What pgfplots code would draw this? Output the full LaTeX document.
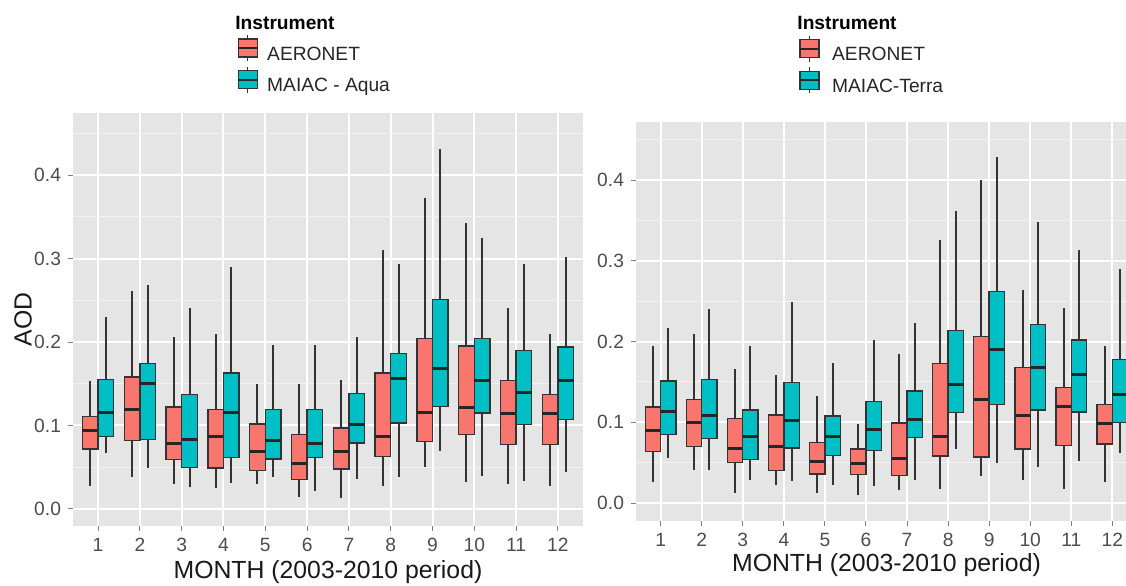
\documentclass[border=0pt]{standalone}
\usepackage{fontspec}
\setmainfont{Liberation Sans}
\usepackage{pgfplots}
\pgfplotsset{compat=1.18}
\usepgfplotslibrary{statistics}

\definecolor{cR}{HTML}{F8766D}
\definecolor{cT}{HTML}{00BFC4}
\definecolor{panelbg}{HTML}{E5E5E5}
\definecolor{gridminor}{HTML}{F2F2F2}
\definecolor{tickgray}{HTML}{7F7F7F}
\definecolor{labgray}{HTML}{4D4D4D}
\definecolor{outline}{HTML}{333333}

% \bx{draw position}{lower whisker}{lower quartile}{median}{upper quartile}{upper whisker}{colour}
\newcommand{\bx}[7]{%
  \addplot[forget plot, fill=#7, draw=outline, line width=0.7pt,
    boxplot prepared={draw position=#1, lower whisker=#2,
      lower quartile=#3, median=#4, upper quartile=#5,
      upper whisker=#6}] coordinates {};%
}

\pgfplotsset{
  ggbase/.style={
    scale only axis,
    xmin=0.4, xmax=12.6,
    xtick={1,...,12},
    ytick={0,0.1,0.2,0.3,0.4},
    minor ytick={0.05,0.15,0.25,0.35,0.45},
    xmajorgrids, ymajorgrids, yminorgrids,
    major grid style={white, line width=1pt},
    minor grid style={gridminor, line width=0.5pt},
    axis background/.style={fill=panelbg},
    axis line style={draw=none},
    tick align=outside, tick pos=left,
    major tick length=2.5pt, minor tick length=0pt,
    tick style={tickgray, line width=0.5pt},
    /pgf/number format/assume math mode=true,
    ticklabel style={font=\fontsize{9.6}{11}\selectfont, text=labgray},
    yticklabel style={/pgf/number format/.cd, fixed, fixed zerofill, precision=1},
    label style={font=\fontsize{12.4}{14}\selectfont, text=black!90},
    boxplot/draw direction=y,
    boxplot/box extend=0.375,
    boxplot/whisker extend=0,
    boxplot/every whisker/.style={draw=outline, line width=1pt},
    boxplot/every median/.style={line width=1.5pt, draw=black!85},
    legend style={draw=none, fill=none, inner sep=0pt, outer sep=0pt,
      row sep=1.5pt, column sep=4.5pt,
      font=\fontsize{9.6}{11}\selectfont,
      nodes={inner sep=0pt, text=black!85}},
    legend cell align=left,
    every axis title shift=0pt,
    title style={anchor=base west, inner sep=0pt,
      font=\bfseries\fontsize{9.6}{11}\selectfont, text=black},
  },
  keyR/.style={legend image code/.code={
      \draw[outline, line width=0.6pt] (4.75pt,-3.1pt) -- (4.75pt,9.9pt);
      \draw[fill=cR, draw=outline, line width=0.6pt] (0pt,-1.1pt) rectangle (9.5pt,7.9pt);
      \draw[black!85, line width=1.1pt] (0pt,3.4pt) -- (9.5pt,3.4pt);}},
  keyT/.style={legend image code/.code={
      \draw[outline, line width=0.6pt] (4.75pt,-3.1pt) -- (4.75pt,9.9pt);
      \draw[fill=cT, draw=outline, line width=0.6pt] (0pt,-1.1pt) rectangle (9.5pt,7.9pt);
      \draw[black!85, line width=1.1pt] (0pt,3.4pt) -- (9.5pt,3.4pt);}},
}

\begin{document}
\begin{tikzpicture}
\begin{axis}[ggbase,
  at={(36.5pt,29.5pt)}, anchor=south west,
  width=255pt, height=206.5pt,
  ymin=-0.0204, ymax=0.4743,
  xlabel={MONTH (2003-2010 period)},
  xlabel style={at={(0.5,-0.126)}, anchor=base},
  ylabel={AOD},
  ylabel style={at={(-0.098,0.5)}, anchor=center},
  title={Instrument},
  title style={at={(0.3176,1.2024)}},
  legend style={at={(0.3216,1.1901)}, anchor=north west},
]
% AERONET (left panel)
\bx{0.8125}{0.028}{0.072}{0.094}{0.111}{0.153}{cR}
\bx{1.8125}{0.038}{0.082}{0.119}{0.158}{0.261}{cR}
\bx{2.8125}{0.030}{0.059}{0.079}{0.122}{0.206}{cR}
\bx{3.8125}{0.025}{0.049}{0.087}{0.119}{0.209}{cR}
\bx{4.8125}{0.030}{0.046}{0.069}{0.102}{0.150}{cR}
\bx{5.8125}{0.014}{0.035}{0.055}{0.089}{0.150}{cR}
\bx{6.8125}{0.013}{0.048}{0.069}{0.097}{0.155}{cR}
\bx{7.8125}{0.027}{0.063}{0.087}{0.163}{0.310}{cR}
\bx{8.8125}{0.050}{0.081}{0.115}{0.204}{0.373}{cR}
\bx{9.8125}{0.032}{0.089}{0.122}{0.195}{0.342}{cR}
\bx{10.8125}{0.030}{0.077}{0.114}{0.154}{0.241}{cR}
\bx{11.8125}{0.028}{0.077}{0.114}{0.137}{0.209}{cR}
% MAIAC - Aqua
\bx{1.1875}{0.067}{0.087}{0.115}{0.155}{0.230}{cT}
\bx{2.1875}{0.049}{0.083}{0.150}{0.174}{0.268}{cT}
\bx{3.1875}{0.026}{0.050}{0.083}{0.137}{0.241}{cT}
\bx{4.1875}{0.031}{0.062}{0.115}{0.163}{0.290}{cT}
\bx{5.1875}{0.038}{0.060}{0.082}{0.119}{0.197}{cT}
\bx{6.1875}{0.021}{0.062}{0.079}{0.119}{0.197}{cT}
\bx{7.1875}{0.036}{0.079}{0.101}{0.138}{0.206}{cT}
\bx{8.1875}{0.038}{0.103}{0.156}{0.186}{0.293}{cT}
\bx{9.1875}{0.070}{0.123}{0.168}{0.251}{0.431}{cT}
\bx{10.1875}{0.040}{0.115}{0.154}{0.204}{0.325}{cT}
\bx{11.1875}{0.033}{0.101}{0.139}{0.190}{0.293}{cT}
\bx{12.1875}{0.044}{0.107}{0.154}{0.194}{0.302}{cT}
\addlegendimage{keyR}\addlegendentry{AERONET}
\addlegendimage{keyT}\addlegendentry{MAIAC - Aqua}
\end{axis}

\begin{axis}[ggbase,
  at={(318pt,32pt)}, anchor=south west,
  width=250.5pt, height=199.5pt,
  ymin=-0.0223, ymax=0.4721,
  xlabel={MONTH (2003-2010 period)},
  xlabel style={at={(0.5,-0.1278)}, anchor=base},
  title={Instrument},
  title style={at={(0.3214,1.2321)}},
  legend style={at={(0.3253,1.218)}, anchor=north west, column sep=6pt},
]
% AERONET (right panel)
\bx{0.8125}{0.026}{0.064}{0.090}{0.119}{0.195}{cR}
\bx{1.8125}{0.041}{0.070}{0.100}{0.128}{0.210}{cR}
\bx{2.8125}{0.012}{0.050}{0.068}{0.105}{0.166}{cR}
\bx{3.8125}{0.022}{0.040}{0.070}{0.109}{0.159}{cR}
\bx{4.8125}{0.012}{0.036}{0.051}{0.075}{0.133}{cR}
\bx{5.8125}{0.010}{0.035}{0.049}{0.067}{0.098}{cR}
\bx{6.8125}{0.016}{0.034}{0.055}{0.099}{0.185}{cR}
\bx{7.8125}{0.017}{0.058}{0.083}{0.173}{0.326}{cR}
\bx{8.8125}{0.033}{0.057}{0.128}{0.206}{0.400}{cR}
\bx{9.8125}{0.029}{0.067}{0.108}{0.168}{0.264}{cR}
\bx{10.8125}{0.017}{0.071}{0.119}{0.143}{0.242}{cR}
\bx{11.8125}{0.026}{0.073}{0.099}{0.122}{0.194}{cR}
% MAIAC-Terra
\bx{1.1875}{0.056}{0.085}{0.113}{0.151}{0.217}{cT}
\bx{2.1875}{0.041}{0.080}{0.109}{0.153}{0.241}{cT}
\bx{3.1875}{0.029}{0.054}{0.083}{0.115}{0.195}{cT}
\bx{4.1875}{0.027}{0.068}{0.102}{0.149}{0.249}{cT}
\bx{5.1875}{0.022}{0.059}{0.083}{0.108}{0.174}{cT}
\bx{6.1875}{0.021}{0.065}{0.091}{0.126}{0.202}{cT}
\bx{7.1875}{0.028}{0.081}{0.104}{0.139}{0.223}{cT}
\bx{8.1875}{0.067}{0.112}{0.147}{0.214}{0.362}{cT}
\bx{9.1875}{0.049}{0.122}{0.190}{0.262}{0.429}{cT}
\bx{10.1875}{0.044}{0.115}{0.168}{0.221}{0.348}{cT}
\bx{11.1875}{0.052}{0.113}{0.159}{0.202}{0.313}{cT}
\bx{12.1875}{0.062}{0.100}{0.135}{0.178}{0.290}{cT}
\addlegendimage{keyR}\addlegendentry{AERONET}
\addlegendimage{keyT}\addlegendentry{MAIAC-Terra}
\end{axis}
\pgfresetboundingbox
\path[use as bounding box] (0pt,0pt) rectangle (563pt,292.5pt);
\end{tikzpicture}
\end{document}
